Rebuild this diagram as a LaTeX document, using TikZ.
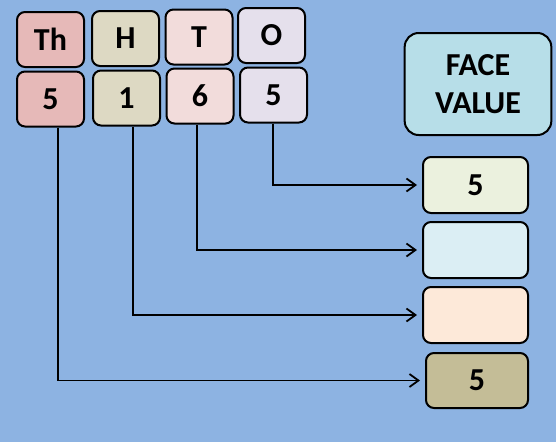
\documentclass[tikz,border=0pt]{standalone}
\usepackage{fontspec}
\setmainfont{Carlito}
\usetikzlibrary{positioning}
\usetikzlibrary{arrows.meta}
\definecolor{bgblue}{HTML}{8DB3E2}
\definecolor{thred}{HTML}{E6B9B8}
\definecolor{hgrey}{HTML}{DDD9C3}
\definecolor{tpink}{HTML}{F2DCDB}
\definecolor{olilac}{HTML}{E5E0EC}
\definecolor{facecyan}{HTML}{B7DEE8}
\definecolor{vgreen}{HTML}{EBF1DE}
\definecolor{vblue}{HTML}{DBEEF4}
\definecolor{vpeach}{HTML}{FDE9D9}
\definecolor{vkhaki}{HTML}{C4BD97}
\tikzset{place/.style = {draw, line width=2pt, rounded corners=8pt,
                         minimum width=67pt, minimum height=55pt,
                         font=\fontsize{32}{33}\selectfont\bfseries}}
\tikzset{valbox/.style = {place, minimum width=105pt, minimum height=56pt}}
\tikzset{link/.style = {line width=1.8pt,
                        -{Straight Barb[length=9pt,width=13pt,line width=1.8pt]},
                        shorten >=5pt}}

\begin{document}
\begin{tikzpicture}[x=1pt, y=-1pt]
    \fill [bgblue] (0, 0) rectangle (556, 442);

    % place names
    \node [place, fill=thred]  (th) at (50.5, 39.5) {Th};
    \node [place, fill=hgrey]  (h)  at (125.5, 38.5) {H};
    \node [place, fill=tpink]  (t)  at (199, 37) {T};
    \node [place, fill=olilac] (o)  at (271.5, 35.5) {O};

    % digits
    \node [place, fill=thred]  (d1) at (50.5, 99) {5};
    \node [place, fill=hgrey]  (d2) at (126.5, 98) {1};
    \node [place, fill=tpink]  (d3) at (200, 96) {6};
    \node [place, fill=olilac] (d4) at (273.5, 95) {5};

    \node [place, fill=facecyan, minimum width=146pt, minimum height=102pt,
           rounded corners=14pt, align=center, text width=140pt,
           font=\fontsize{32}{38}\selectfont\bfseries] (face) at (478, 84) {FACE\\VALUE};

    % face values
    \node [valbox, fill=vgreen] (v1) at (475.5, 185) {5};
    \node [valbox, fill=vblue]  (v2) at (475.5, 250) {};
    \node [valbox, fill=vpeach] (v3) at (475.5, 315) {};
    \node [valbox, fill=vkhaki, minimum width=102pt, minimum height=55pt] (v4) at (477, 380.5) {5};

    \draw [link] ([xshift=7.5pt]d1.south) |- (v4.west);
    \draw [link] ([xshift=6.5pt]d2.south) |- (v3.west);
    \draw [link] ([xshift=-3pt]d3.south) |- (v2.west);
    \draw [link] ([xshift=-0.5pt]d4.south) |- (v1.west);
\end{tikzpicture}
\end{document}
